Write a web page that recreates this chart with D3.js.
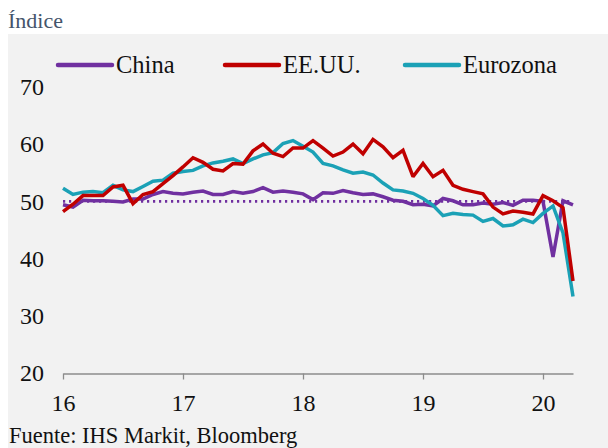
<!DOCTYPE html>
<html>
<head>
<meta charset="utf-8">
<script src="https://cdn.jsdelivr.net/npm/d3@7/dist/d3.min.js"></script>
<style>
  html, body { margin: 0; padding: 0; background: #ffffff; }
  svg { display: block; }
  text { font-family: "Liberation Serif", "DejaVu Serif", serif; }
</style>
</head>
<body>
<svg id="chart" width="608" height="448"></svg>
<script>
// Monthly manufacturing PMI readings, Jan 2016 – Apr 2020
const startYear = 2016;

const china = [
  49.4, 49.0, 50.2, 50.1, 50.1, 50.0, 49.9, 50.4, 50.4, 51.2, 51.7, 51.4,
  51.3, 51.6, 51.8, 51.2, 51.2, 51.7, 51.4, 51.7, 52.4, 51.6, 51.8, 51.6,
  51.3, 50.3, 51.5, 51.4, 51.9, 51.5, 51.2, 51.3, 50.8, 50.2, 50.0, 49.4,
  49.5, 49.2, 50.5, 50.1, 49.4, 49.4, 49.7, 49.5, 49.8, 49.3, 50.2, 50.2,
  50.0, 40.3, 50.1, 49.4
];

const usa = [
  48.2, 49.5, 51.0, 51.0, 51.0, 52.5, 52.8, 49.6, 51.2, 51.7, 53.1, 54.5,
  56.0, 57.6, 56.8, 55.6, 55.3, 56.6, 56.5, 58.8, 60.0, 58.4, 57.8, 59.3,
  59.3, 60.6, 59.3, 57.9, 58.6, 60.0, 58.3, 60.8, 59.5, 57.6, 58.9, 54.3,
  56.6, 54.3, 55.4, 52.8, 52.1, 51.7, 51.3, 49.0, 47.8, 48.3, 48.1, 47.8,
  51.0, 50.1, 48.9, 36.1
];

const eurozone = [
  52.3, 51.2, 51.6, 51.7, 51.5, 52.8, 52.0, 51.7, 52.6, 53.5, 53.7, 54.9,
  55.2, 55.4, 56.2, 56.7, 57.0, 57.4, 56.6, 57.4, 58.1, 58.5, 60.1, 60.6,
  59.6, 58.6, 56.6, 56.2, 55.5, 54.9, 55.1, 54.6, 53.2, 52.0, 51.8, 51.4,
  50.5, 49.3, 47.5, 47.9, 47.7, 47.6, 46.5, 47.0, 45.7, 45.9, 46.9, 46.3,
  47.9, 49.2, 44.5, 33.4
];

const seriesNames = ["China", "EE.UU.", "Eurozona"];
const yTicks = [20, 30, 40, 50, 60, 70];
const xTicks = [2016, 2017, 2018, 2019, 2020];
const threshold = 50;

const colors = { "China": "#7030a0", "EE.UU.": "#c00000", "Eurozona": "#1ba1b6" };
const labelFont = "Liberation Serif, DejaVu Serif, serif";

const svg = d3.select("#chart");

// panel background
svg.append("rect")
  .attr("x", 8).attr("y", 34)
  .attr("width", 600).attr("height", 414)
  .attr("fill", "#f2f2f2");

svg.append("text")
  .attr("x", 8).attr("y", 28)
  .attr("font-size", 22)
  .attr("fill", "#44546a")
  .text("Índice");

const x = d3.scaleLinear()
  .domain([startYear, startYear + 4 + 3 / 12])
  .range([63, 573]);

const y = d3.scaleLinear()
  .domain([20, 70])
  .range([373.3, 86.7]);

const toPoints = vals => vals.map((v, i) => ({ t: startYear + i / 12, v }));

// x axis
const xAxis = d3.axisBottom(x)
  .tickValues(xTicks)
  .tickFormat(d => String(d).slice(2))
  .tickSize(6)
  .tickSizeOuter(0);

const gx = svg.append("g")
  .attr("transform", "translate(0,373.5)")
  .call(xAxis);
gx.select(".domain").attr("stroke", "#8c8c8c").attr("stroke-width", 1.3);
gx.selectAll(".tick line").attr("stroke", "#8c8c8c").attr("stroke-width", 1.3);
gx.selectAll(".tick text")
  .attr("font-family", labelFont)
  .attr("font-size", 24)
  .attr("fill", "#111")
  .attr("dy", 0)
  .attr("y", 37);

// y axis labels only
const yAxis = d3.axisLeft(y)
  .tickValues(yTicks)
  .tickSize(0)
  .tickPadding(0);
const gy = svg.append("g")
  .attr("transform", "translate(44,0)")
  .call(yAxis);
gy.select(".domain").remove();
gy.selectAll(".tick text")
  .attr("font-family", labelFont)
  .attr("font-size", 24)
  .attr("fill", "#111");

// 50 threshold, dotted
svg.append("line")
  .attr("x1", x(startYear)).attr("x2", x(startYear + 4 + 3 / 12))
  .attr("y1", y(threshold)).attr("y2", y(threshold))
  .attr("stroke", colors["China"])
  .attr("stroke-width", 2.6)
  .attr("stroke-dasharray", "2.2,3.8");

const line = d3.line()
  .x(d => x(d.t))
  .y(d => y(d.v));

const data = [
  { name: "China", values: toPoints(china) },
  { name: "Eurozona", values: toPoints(eurozone) },
  { name: "EE.UU.", values: toPoints(usa) }
];

svg.append("g").selectAll("path")
  .data(data)
  .join("path")
  .attr("d", d => line(d.values))
  .attr("fill", "none")
  .attr("stroke", d => colors[d.name])
  .attr("stroke-width", 3.5)
  .attr("stroke-linejoin", "miter")
  .attr("stroke-miterlimit", 2);

// legend
const legendPos = { "China": 58, "EE.UU.": 225, "Eurozona": 405 };
const lg = svg.append("g");
seriesNames.forEach(name => {
  const x0 = legendPos[name];
  lg.append("line")
    .attr("x1", x0).attr("x2", x0 + 54)
    .attr("y1", 65).attr("y2", 65)
    .attr("stroke", colors[name])
    .attr("stroke-width", 4.5)
    .attr("stroke-linecap", "round");
  lg.append("text")
    .attr("x", x0 + 58).attr("y", 73)
    .attr("font-size", 24.5)
    .attr("fill", "#111")
    .text(name);
});

svg.append("text")
  .attr("x", 9).attr("y", 443)
  .attr("font-size", 22.5)
  .attr("fill", "#111")
  .text("Fuente: IHS Markit, Bloomberg");
</script>
</body>
</html>
